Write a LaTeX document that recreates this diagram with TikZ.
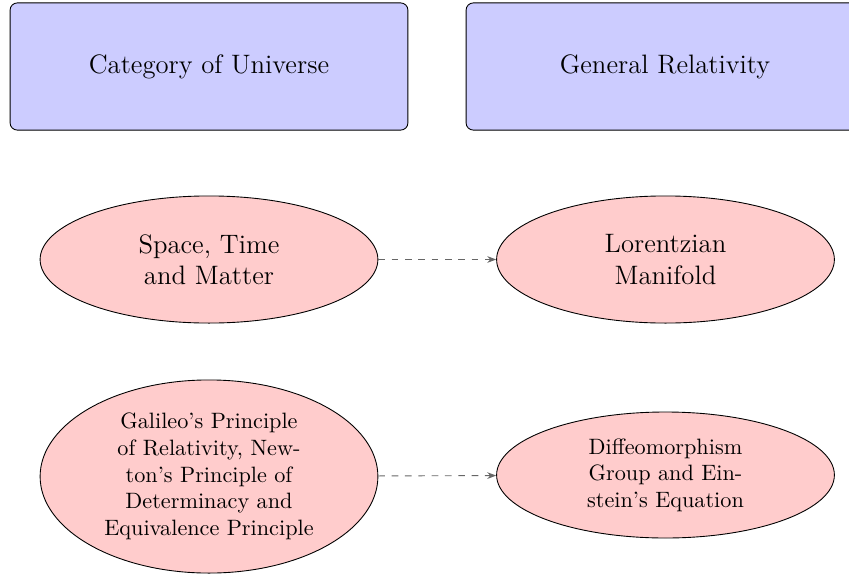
\documentclass[tikz,border=0pt]{standalone}
\usetikzlibrary{shapes.geometric,arrows.meta}
\begin{document}
\begin{tikzpicture}[x=0.45pt,y=-0.45pt,
  catbox/.style={draw, fill=blue!20, rounded corners=3.2pt, minimum width=179pt, minimum height=57.2pt, inner sep=0pt, font=\large},
  ell/.style={draw, ellipse, fill=red!20, inner sep=0pt, minimum width=152pt, minimum height=57.2pt, align=center},
  conn/.style={dashed, draw=black!60, -{Stealth[length=4pt,width=3pt]}}]
\useasboundingbox (0,0) rectangle (849,576);
\node[catbox] (cu) at (209,66.5) {Category of Universe};
\node[catbox] (gr) at (665,66.5) {General Relativity};
\node[ell, font=\large, text width=3cm] (stm) at (209,259.5) {Space, Time and Matter};
\node[ell, font=\large, text width=3cm] (lm) at (665.5,259.5) {Lorentzian Manifold};
\node[ell, text width=3.4cm, minimum height=86.9pt] (gal) at (209,476.5) {Galileo's Principle of Relativity, Newton's Principle of Determinacy and Equivalence Principle};
\node[ell, text width=3.4cm, minimum height=56.7pt] (dif) at (665.5,475) {Diffeomorphism Group and Einstein's Equation};
\draw[conn] (stm) -- (lm);
\draw[conn] (gal) -- (dif);
\end{tikzpicture}
\end{document}
